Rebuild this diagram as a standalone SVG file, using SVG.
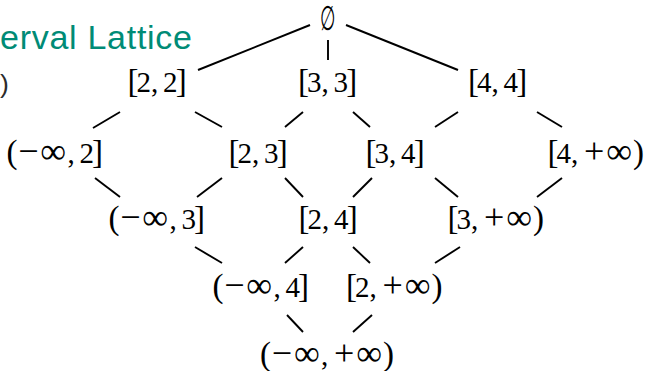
<svg xmlns="http://www.w3.org/2000/svg" width="649" height="371" viewBox="0 0 649 371">
<style>
.m{font-family:"Liberation Serif","DejaVu Serif",serif;font-size:29px;fill:#000;text-anchor:middle}
.b{font-size:33px}
.o{font-size:36px}
.i{font-size:36px}
.e{stroke:#000;stroke-width:1.9;stroke-linecap:butt;fill:none}
.t{font-family:"Liberation Sans","DejaVu Sans",sans-serif;font-size:34px;fill:#008b76}
.s{font-family:"Liberation Sans","DejaVu Sans",sans-serif;font-size:26.5px;fill:#2b2b2b}
</style>
<rect width="649" height="371" fill="#fff"/>
<text class="t" x="0" y="49" textLength="192">erval Lattice</text>
<text class="s" x="0" y="92.5">)</text>
<g id="connectors">
<line class="e" x1="198" y1="70" x2="310" y2="25"/>
<line class="e" x1="328" y1="40" x2="328" y2="60"/>
<line class="e" x1="346" y1="25" x2="458" y2="70"/>
<line class="e" x1="93" y1="128" x2="120" y2="112"/>
<line class="e" x1="195" y1="112" x2="222" y2="127"/>
<line class="e" x1="285" y1="127" x2="303" y2="112"/>
<line class="e" x1="353" y1="112" x2="370" y2="127"/>
<line class="e" x1="435" y1="127" x2="458" y2="112"/>
<line class="e" x1="537" y1="112" x2="562" y2="127"/>
<line class="e" x1="95" y1="178" x2="120" y2="197"/>
<line class="e" x1="197" y1="197" x2="222" y2="178"/>
<line class="e" x1="285" y1="178" x2="303" y2="197"/>
<line class="e" x1="372" y1="178" x2="353" y2="197"/>
<line class="e" x1="435" y1="178" x2="458" y2="197"/>
<line class="e" x1="562" y1="178" x2="537" y2="197"/>
<line class="e" x1="195" y1="247" x2="222" y2="263"/>
<line class="e" x1="285" y1="263" x2="303" y2="247"/>
<line class="e" x1="353" y1="247" x2="370" y2="263"/>
<line class="e" x1="435" y1="263" x2="460" y2="247"/>
<line class="e" x1="287" y1="315" x2="303" y2="332"/>
<line class="e" x1="372" y1="315" x2="353" y2="332"/>
</g>
<g id="n-empty"><text class="m" x="0" y="30" style="font-size:34px" transform="translate(327.5 0) scale(0.52 1)">∅</text></g>
<g id="n-22"><text class="m" y="92"><tspan class="b" x="132.9">[</tspan><tspan x="143.8">2</tspan><tspan x="154.7">,</tspan><tspan x="170.3">2</tspan><tspan class="b" x="181.2">]</tspan></text></g>
<g id="n-33"><text class="m" y="92"><tspan class="b" x="303.4">[</tspan><tspan x="314.3">3</tspan><tspan x="325.2">,</tspan><tspan x="340.8">3</tspan><tspan class="b" x="351.7">]</tspan></text></g>
<g id="n-44"><text class="m" y="92"><tspan class="b" x="473.4">[</tspan><tspan x="484.3">4</tspan><tspan x="495.2">,</tspan><tspan x="510.8">4</tspan><tspan class="b" x="521.7">]</tspan></text></g>
<g id="n-m2"><text class="m" y="162.5"><tspan class="b" x="12">(</tspan><tspan class="o" x="28.3">−</tspan><tspan class="i" x="53.2">∞</tspan><tspan x="71.1">,</tspan><tspan x="86.7">2</tspan><tspan class="b" x="97.6">]</tspan></text></g>
<g id="n-23"><text class="m" y="162.5"><tspan class="b" x="233.9">[</tspan><tspan x="244.8">2</tspan><tspan x="255.7">,</tspan><tspan x="271.3">3</tspan><tspan class="b" x="282.2">]</tspan></text></g>
<g id="n-34"><text class="m" y="162.5"><tspan class="b" x="370.9">[</tspan><tspan x="381.8">3</tspan><tspan x="392.7">,</tspan><tspan x="408.3">4</tspan><tspan class="b" x="419.2">]</tspan></text></g>
<g id="n-4p"><text class="m" y="162.5"><tspan class="b" x="552.9">[</tspan><tspan x="563.8">4</tspan><tspan x="574.7">,</tspan><tspan class="o" x="594.2">+</tspan><tspan class="i" x="619.1">∞</tspan><tspan class="b" x="638.6">)</tspan></text></g>
<g id="n-m3"><text class="m" y="228.5"><tspan class="b" x="114">(</tspan><tspan class="o" x="130.3">−</tspan><tspan class="i" x="155.2">∞</tspan><tspan x="173.1">,</tspan><tspan x="188.7">3</tspan><tspan class="b" x="199.6">]</tspan></text></g>
<g id="n-24"><text class="m" y="228.5"><tspan class="b" x="303.9">[</tspan><tspan x="314.8">2</tspan><tspan x="325.7">,</tspan><tspan x="341.3">4</tspan><tspan class="b" x="352.2">]</tspan></text></g>
<g id="n-3p"><text class="m" y="228.5"><tspan class="b" x="452.9">[</tspan><tspan x="463.8">3</tspan><tspan x="474.7">,</tspan><tspan class="o" x="494.2">+</tspan><tspan class="i" x="519.1">∞</tspan><tspan class="b" x="538.6">)</tspan></text></g>
<g id="n-m4"><text class="m" y="297"><tspan class="b" x="218">(</tspan><tspan class="o" x="234.3">−</tspan><tspan class="i" x="259.2">∞</tspan><tspan x="277.1">,</tspan><tspan x="292.7">4</tspan><tspan class="b" x="303.6">]</tspan></text></g>
<g id="n-2p"><text class="m" y="297"><tspan class="b" x="351.4">[</tspan><tspan x="362.3">2</tspan><tspan x="373.2">,</tspan><tspan class="o" x="392.7">+</tspan><tspan class="i" x="417.6">∞</tspan><tspan class="b" x="437.05">)</tspan></text></g>
<g id="n-mp"><text class="m" y="364.5"><tspan class="b" x="265.5">(</tspan><tspan class="o" x="281.85">−</tspan><tspan class="i" x="306.75">∞</tspan><tspan x="324.65">,</tspan><tspan class="o" x="344.15">+</tspan><tspan class="i" x="369.05">∞</tspan><tspan class="b" x="388.5">)</tspan></text></g>
</svg>
